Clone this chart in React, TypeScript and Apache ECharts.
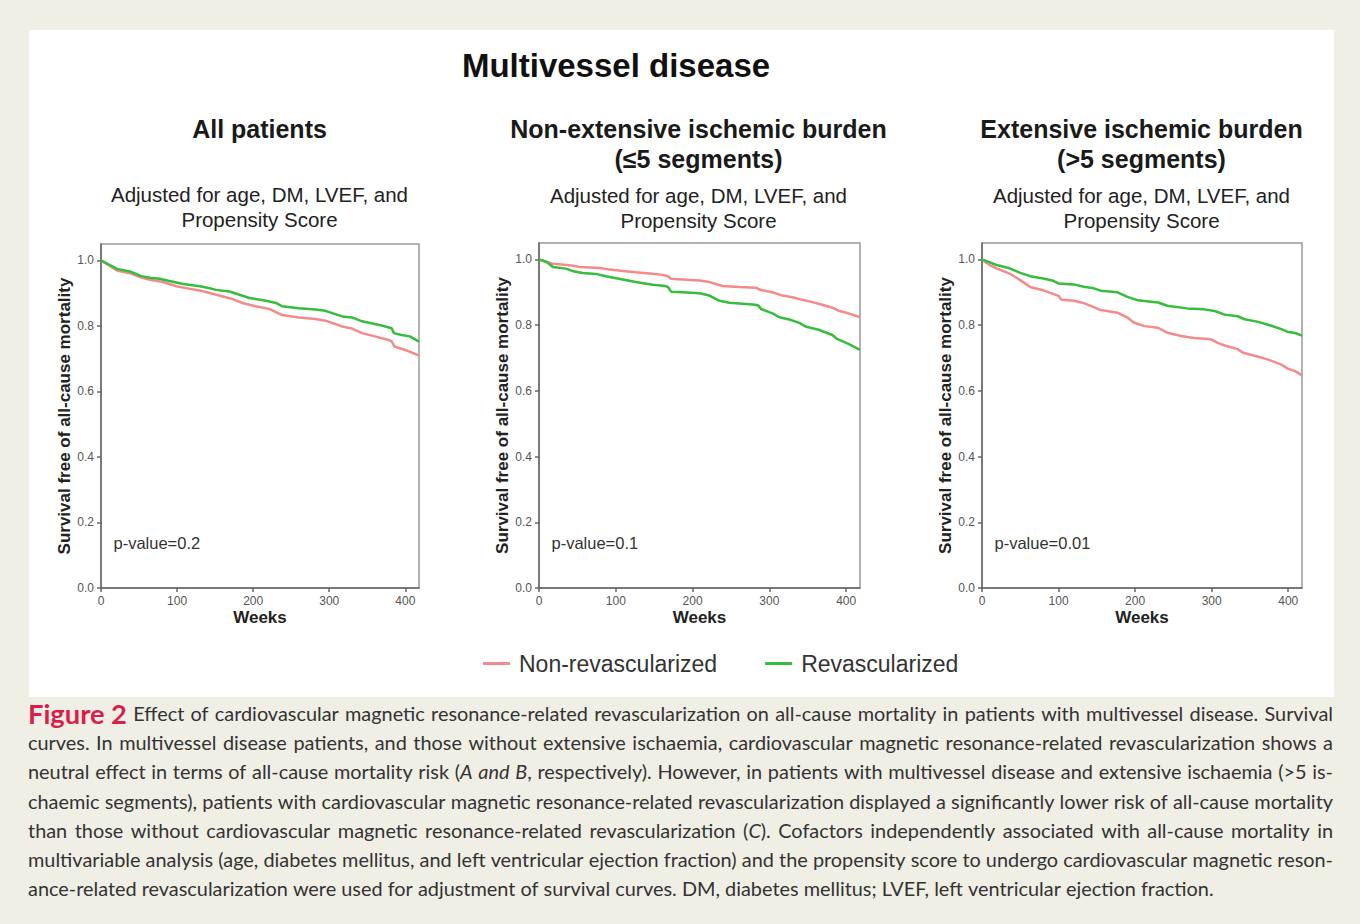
import React, { useEffect, useRef } from "react";
import * as echarts from "echarts";

const W = 1360;
const H = 924;

// ---------- DATA ----------
const xTicks = [0, 100, 200, 300, 400];
const yTicks = [0, 0.2, 0.4, 0.6, 0.8, 1.0];
const seriesNames = ["Non-revascularized", "Revascularized"];
const panelTitles = [["All patients"], ["Non-extensive ischemic burden", "(≤5 segments)"], ["Extensive ischemic burden", "(>5 segments)"]];
const subtitleLines = ["Adjusted for age, DM, LVEF, and", "Propensity Score"];
const pValues = ["p-value=0.2", "p-value=0.1", "p-value=0.01"];

// Panel A: All patients
const aNonRevWeeks = [0, 21, 38, 51, 64, 82, 99, 117, 130, 147, 160, 173, 186, 203, 221, 238, 260, 282, 295, 308, 317, 330, 343, 360, 377, 382, 386, 403, 418];
const aNonRevSurv = [1.0, 0.969, 0.961, 0.949, 0.941, 0.934, 0.921, 0.913, 0.908, 0.898, 0.89, 0.882, 0.87, 0.86, 0.852, 0.833, 0.826, 0.821, 0.816, 0.806, 0.798, 0.792, 0.778, 0.768, 0.758, 0.753, 0.737, 0.724, 0.709];
const aRevWeeks = [0, 21, 38, 53, 64, 77, 90, 108, 130, 143, 151, 169, 182, 195, 217, 230, 238, 260, 282, 295, 308, 317, 330, 343, 360, 369, 382, 385, 395, 406, 418];
const aRevSurv = [1.0, 0.974, 0.966, 0.952, 0.947, 0.944, 0.937, 0.928, 0.921, 0.915, 0.91, 0.905, 0.895, 0.885, 0.877, 0.87, 0.86, 0.854, 0.85, 0.846, 0.836, 0.829, 0.826, 0.814, 0.806, 0.801, 0.793, 0.778, 0.772, 0.768, 0.752];

// Panel B: Non-extensive ischemic burden
const bNonRevWeeks = [0, 18, 40, 53, 79, 92, 109, 126, 144, 161, 168, 172, 187, 209, 222, 239, 261, 282, 289, 304, 317, 330, 343, 356, 369, 382, 390, 403, 418];
const bNonRevSurv = [1.0, 0.987, 0.982, 0.977, 0.974, 0.969, 0.965, 0.961, 0.957, 0.953, 0.949, 0.941, 0.939, 0.936, 0.931, 0.919, 0.916, 0.914, 0.907, 0.9, 0.89, 0.885, 0.877, 0.87, 0.862, 0.853, 0.844, 0.836, 0.824];
const bRevWeeks = [0, 10, 18, 35, 46, 57, 74, 87, 109, 126, 148, 165, 168, 172, 187, 209, 222, 235, 248, 282, 286, 289, 304, 313, 326, 339, 347, 364, 382, 388, 403, 418];
const bRevSurv = [1.0, 0.992, 0.977, 0.972, 0.963, 0.959, 0.956, 0.949, 0.939, 0.931, 0.923, 0.919, 0.916, 0.902, 0.9, 0.897, 0.89, 0.874, 0.868, 0.862, 0.859, 0.849, 0.836, 0.824, 0.817, 0.807, 0.796, 0.786, 0.77, 0.758, 0.743, 0.725];

// Panel C: Extensive ischemic burden
const cNonRevWeeks = [0, 10, 19, 36, 50, 63, 80, 93, 100, 104, 120, 133, 146, 155, 177, 190, 198, 212, 230, 242, 260, 277, 299, 308, 317, 334, 341, 356, 374, 391, 400, 409, 418];
const cNonRevSurv = [1.0, 0.983, 0.973, 0.957, 0.937, 0.916, 0.906, 0.895, 0.889, 0.877, 0.874, 0.867, 0.855, 0.846, 0.838, 0.823, 0.808, 0.797, 0.792, 0.777, 0.767, 0.761, 0.757, 0.746, 0.738, 0.727, 0.716, 0.707, 0.695, 0.68, 0.667, 0.66, 0.647];
const cRevWeeks = [0, 19, 36, 50, 63, 80, 93, 100, 120, 133, 146, 155, 177, 190, 203, 230, 242, 268, 290, 304, 317, 334, 343, 361, 378, 391, 400, 409, 418];
const cRevSurv = [1.0, 0.983, 0.973, 0.959, 0.949, 0.942, 0.935, 0.927, 0.924, 0.917, 0.912, 0.905, 0.9, 0.886, 0.876, 0.869, 0.859, 0.851, 0.848, 0.843, 0.832, 0.827, 0.818, 0.81, 0.798, 0.788, 0.779, 0.776, 0.768];

const captionLead = "Figure 2";
const captionLines = [
  "Effect of cardiovascular magnetic resonance-related revascularization on all-cause mortality in patients with multivessel disease. Survival",
  "curves. In multivessel disease patients, and those without extensive ischaemia, cardiovascular magnetic resonance-related revascularization shows a",
  "neutral effect in terms of all-cause mortality risk (_A_ _and_ _B_, respectively). However, in patients with multivessel disease and extensive ischaemia (>5 is-",
  "chaemic segments), patients with cardiovascular magnetic resonance-related revascularization displayed a significantly lower risk of all-cause mortality",
  "than those without cardiovascular magnetic resonance-related revascularization (_C_). Cofactors independently associated with all-cause mortality in",
  "multivariable analysis (age, diabetes mellitus, and left ventricular ejection fraction) and the propensity score to undergo cardiovascular magnetic reson-",
  "ance-related revascularization were used for adjustment of survival curves. DM, diabetes mellitus; LVEF, left ventricular ejection fraction.",
];

// ---------- STYLE / LAYOUT ----------
const RED = "#f58a8c";
const GREEN = "#35bd3d";
const SANS = "'Liberation Sans', Arial, sans-serif";
const CAP_FONT = "Lato";
const grids = [
  { left: 101, top: 244, width: 318, height: 344 },
  { left: 539, top: 243, width: 321, height: 345 },
  { left: 982, top: 243, width: 320, height: 345 },
];
const panelCenters = [259.5, 698.5, 1141.5];

const zip = (xs: number[], ys: number[]) => xs.map((x, i) => [x, ys[i]]);

function buildCaption(): any[] {
  const ctx = document.createElement("canvas").getContext("2d")!;
  const meas = (t: string, kind: string, size: number) => {
    ctx.font = `${kind === "i" ? "italic " : ""}${kind === "b" ? "bold " : ""}${size}px ${CAP_FONT}`;
    return ctx.measureText(t).width;
  };
  const X0 = 28;
  const LINE_W = 1305;
  const Y0 = 713;
  const DY = 29.2;
  // calibrate size from the last (unjustified) line: 28 -> 1215
  const base = meas(captionLines[captionLines.length - 1].replace(/_/g, ""), "n", 20);
  const size = (20 * 1187) / base;
  const leadSize = (20 * 99) / meas(captionLead, "b", 20);
  const els: any[] = [];
  captionLines.forEach((line, li) => {
    const y = Y0 + li * DY;
    const words: { segs: { t: string; k: string }[]; lead?: boolean }[] = [];
    if (li === 0) words.push({ segs: [{ t: captionLead, k: "b" }], lead: true });
    line.split(" ").forEach((w) => {
      const parts = w.split("_");
      const segs: { t: string; k: string }[] = [];
      parts.forEach((p, pi) => {
        if (p) segs.push({ t: p, k: pi % 2 === 1 ? "i" : "n" });
      });
      words.push({ segs });
    });
    const widths = words.map((w) =>
      w.segs.reduce((s, sg) => s + meas(sg.t, sg.k, w.lead ? leadSize : size), 0)
    );
    const total = widths.reduce((a, b) => a + b, 0);
    const justify = li < captionLines.length - 1;
    const gap = justify ? (LINE_W - total) / (words.length - 1) : meas(" ", "n", size);
    let x = X0;
    words.forEach((w, wi) => {
      if (w.lead) {
        els.push({
          type: "text", x, y, silent: true,
          style: { text: captionLead, fill: "#d81f4c", fontFamily: CAP_FONT, fontWeight: "bold", fontSize: leadSize, verticalAlign: "middle", align: "left" },
        });
      } else if (w.segs.length === 1 && w.segs[0].k === "n") {
        els.push({
          type: "text", x, y, silent: true,
          style: { text: w.segs[0].t, fill: "#333", fontFamily: CAP_FONT, fontSize: size, verticalAlign: "middle", align: "left" },
        });
      } else {
        els.push({
          type: "text", x, y, silent: true,
          style: {
            text: w.segs.map((s) => `{${s.k}|${s.t}}`).join(""),
            fill: "#333", fontFamily: CAP_FONT, fontSize: size, verticalAlign: "middle", align: "left",
            rich: {
              n: { fontFamily: CAP_FONT, fontSize: size, fill: "#333" },
              i: { fontFamily: CAP_FONT, fontSize: size, fontStyle: "italic", fill: "#333" },
            },
          },
        });
      }
      x += widths[wi] + gap;
    });
  });
  return els;
}

function buildOption(): any {
  const panels = [
    [zip(aNonRevWeeks, aNonRevSurv), zip(aRevWeeks, aRevSurv)],
    [zip(bNonRevWeeks, bNonRevSurv), zip(bRevWeeks, bRevSurv)],
    [zip(cNonRevWeeks, cNonRevSurv), zip(cRevWeeks, cRevSurv)],
  ];
  const axisLineStyle = { color: "#666", width: 1.5 };
  const xAxis = grids.map((_, i) => ({
    type: "value", gridIndex: i, min: 0, max: 418,
    axisLine: { show: true, onZero: false, lineStyle: axisLineStyle },
    axisTick: { show: true, length: 4, customValues: xTicks, lineStyle: axisLineStyle },
    axisLabel: { customValues: xTicks, fontSize: 12, color: "#555", fontFamily: SANS, margin: 7 },
    splitLine: { show: false },
    name: "Weeks", nameLocation: "middle", nameGap: 21,
    nameTextStyle: { fontSize: 17, fontWeight: "bold", color: "#222", fontFamily: SANS },
  }));
  const yAxis = grids.map((_, i) => ({
    type: "value", gridIndex: i, min: 0, max: 1.05,
    axisLine: { show: true, onZero: false, lineStyle: axisLineStyle },
    axisTick: { show: true, length: 4, customValues: yTicks, lineStyle: axisLineStyle },
    axisLabel: { customValues: yTicks, fontSize: 12, color: "#555", fontFamily: SANS, margin: 7, formatter: (v: number) => v.toFixed(1) },
    splitLine: { show: false },
    name: "Survival free of all-cause mortality", nameLocation: "middle", nameGap: 25,
    nameTextStyle: { fontSize: 17, fontWeight: "bold", color: "#222", fontFamily: SANS },
  }));
  const series: any[] = [];
  panels.forEach((p, i) => {
    p.forEach((data, si) => {
      series.push({
        type: "line", name: seriesNames[si], xAxisIndex: i, yAxisIndex: i, data,
        showSymbol: false, symbol: "none", color: si === 0 ? RED : GREEN,
        lineStyle: { width: 2.5, color: si === 0 ? RED : GREEN },
        z: si === 0 ? 2 : 3,
      });
    });
  });

  const graphic: any[] = [
    { type: "rect", shape: { x: 29, y: 30, width: 1305, height: 667 }, style: { fill: "#ffffff" }, silent: true, z: -10 },
    {
      type: "text", x: 616, y: 65, silent: true,
      style: { text: "Multivessel disease", fontSize: 33, fontWeight: "bold", fontFamily: SANS, fill: "#111", align: "center", verticalAlign: "middle" },
    },
  ];
  panelTitles.forEach((lines, i) => {
    lines.forEach((t, li) => {
      graphic.push({
        type: "text", x: panelCenters[i], y: 128.5 + li * 30, silent: true,
        style: { text: t, fontSize: 25, fontWeight: "bold", fontFamily: SANS, fill: "#1a1a1a", align: "center", verticalAlign: "middle" },
      });
    });
    subtitleLines.forEach((t, li) => {
      graphic.push({
        type: "text", x: panelCenters[i], y: (i === 0 ? 194 : 195) + li * 25, silent: true,
        style: { text: t, fontSize: 20.5, fontFamily: SANS, fill: "#222", align: "center", verticalAlign: "middle" },
      });
    });
    graphic.push({
      type: "text", x: grids[i].left + 12.5, y: 542.5, silent: true,
      style: { text: pValues[i], fontSize: 16.5, fontFamily: SANS, fill: "#333", align: "left", verticalAlign: "middle" },
    });
  });
  graphic.push(...buildCaption());

  return {
    animation: false,
    backgroundColor: "#f0efe6",
    grid: grids.map((g) => ({ ...g, show: true, borderColor: "#999", borderWidth: 1.5, backgroundColor: "transparent" })),
    xAxis,
    yAxis,
    legend: {
      data: seriesNames, left: 483, top: 652, itemWidth: 27, itemHeight: 3, itemGap: 48, icon: "rect",
      selectedMode: false, padding: 0,
      textStyle: { fontSize: 23, color: "#333", fontFamily: SANS, padding: [0, 0, 0, 4] },
    },
    series,
    graphic,
  };
}

export default function App() {
  const ref = useRef<HTMLDivElement>(null);
  useEffect(() => {
    document.body.style.margin = "0";
    const chart = echarts.init(ref.current!, null, { renderer: "svg", width: W, height: H });
    chart.setOption(buildOption());
    return () => chart.dispose();
  }, []);
  return <div ref={ref} style={{ width: W, height: H, position: "absolute", left: 0, top: 0 }} />;
}
